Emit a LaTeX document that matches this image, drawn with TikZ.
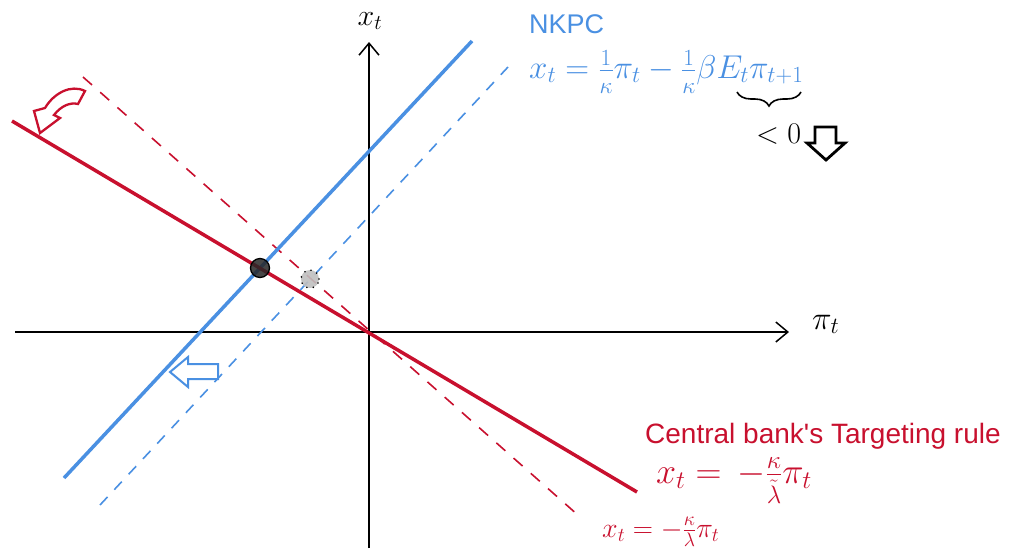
\RequirePackage{fix-cm}
\documentclass[tikz,border=0pt]{standalone}
\usepackage{fontspec}
\newfontfamily\sansf{Liberation Sans}
\usetikzlibrary{arrows.meta,decorations.pathreplacing}
\definecolor{nkblue}{RGB}{74,144,226}
\definecolor{cbred}{RGB}{200,16,46}
\newcommand{\lowden}[2]{\lower#1\hbox{$\scriptstyle #2$}}
\tikzset{
  blueline/.style={draw=nkblue, line width=3.5pt},
  bluedash/.style={draw=nkblue, line width=1.6pt, dash pattern=on 11pt off 10pt},
  redline/.style={draw=cbred, line width=3.5pt},
  reddash/.style={draw=cbred, line width=1.6pt, dash pattern=on 12pt off 11pt},
  axisline/.style={draw=black, line width=1.5pt, -{Straight Barb[length=12pt,width=20pt,line width=1.5pt]}},
  txt/.style={inner sep=0pt, anchor=base west},
  fs/.style={font=\fontsize{#1}{#1}\selectfont},
}
\begin{document}
\begin{tikzpicture}[x=1pt,y=-1pt]
\useasboundingbox (0,0) rectangle (1009,550);
% axes
\coordinate (xl) at (15,332);
\coordinate (xr) at (789,332);
\coordinate (yb) at (369,548);
\coordinate (yt) at (369,42);
\draw[axisline] (xl) -- (xr);
\draw[axisline] (yb) -- (yt);
\node[inner sep=0pt, anchor=base, fs=30] (xlab) at (370,25) {$x_t$};
\node[txt, fs=33] (pilab) at (812,329) {$\pi_t$};
% line endpoints
\coordinate (bd1) at (100,505);
\coordinate (bd2) at (508,67);
\coordinate (b1) at (64,478);
\coordinate (b2) at (472,41);
\coordinate (rd1) at (83,77);
\coordinate (rd2) at (579,516);
\coordinate (r1) at (12,121);
\coordinate (r2) at (637,492);
\draw[bluedash] (bd1) -- (bd2);
\draw[reddash] (rd1) -- (rd2);
\draw[blueline] (b1) -- (b2);
\draw[redline] (r1) -- (r2);
% equilibrium points
\node[circle, minimum size=19pt, inner sep=0pt, fill=black!85, fill opacity=0.85, draw=black, line width=1.3pt] (eq0) at (260,268) {};
\node[circle, minimum size=18pt, inner sep=0pt, fill=black!25, fill opacity=0.9, draw=black, line width=1.8pt, line cap=round, dash pattern=on 0pt off 6.5pt] (eq1) at (310,279) {};
% red curved arrow
\draw[cbred, line width=2.3pt, fill=white, line join=miter] (85,91) .. controls (71,84) and (54,93) .. (45,108) -- (34,111) -- (40,133) -- (60,118) -- (54,115) .. controls (61,106) and (70,102) .. (78,104) -- cycle;
% blue open arrow
\draw[nkblue, line width=2pt, fill=white, line join=miter] (170,372) -- (188,357) -- (188,364) -- (218,364) -- (218,379) -- (188,379) -- (188,387) -- cycle;
% NKPC text
\node[txt, text=nkblue, font=\sansf\fontsize{27}{32}\selectfont] (nkpc) at (529,33) {NKPC};
\node[txt, text=nkblue, fs=33] (nkeq) at (529,78) {$x_t = \frac{1}{\lowden{4pt}{\kappa}}\pi_t - \frac{1}{\lowden{4pt}{\kappa}}\beta E_t\pi_{t+1}$};
\coordinate (brR) at (801,92);
\coordinate (brL) at (737,92);
\draw[black, line width=1.6pt, decorate, decoration={brace, amplitude=14pt, aspect=0.5}] (brR) -- (brL);
\node[txt, fs=30] (lt0) at (756,143) {$<0$};
% black down arrow
\draw[black, line width=2.8pt, fill=white, line join=miter] (815,127) -- (836,127) -- (836,143) -- (845,143) -- (826,160) -- (807,143) -- (815,143) -- cycle;
% red texts
\node[txt, text=cbred, font=\sansf\fontsize{28}{32}\selectfont] (cbt) at (645,443) {Central bank's Targeting rule};
\node[txt, text=cbred, fs=36] (req1) at (656,483) {$x_t = \,-\frac{\kappa}{\lowden{8pt}{\tilde\lambda}}\pi_t$};
\node[txt, text=cbred, fs=28] (req2) at (602,537) {$x_t = -\frac{\kappa}{\lambda}\pi_t$};
\end{tikzpicture}
\end{document}
